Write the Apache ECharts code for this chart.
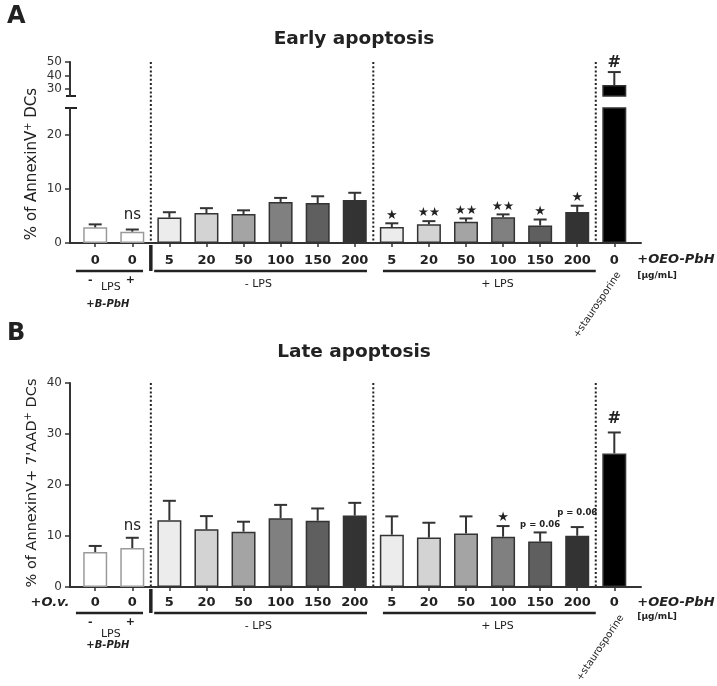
<!DOCTYPE html>
<html><head><meta charset="utf-8">
<script src="https://cdn.jsdelivr.net/npm/echarts@6/dist/echarts.min.js"></script>
<style>html,body{margin:0;padding:0;background:#fff}#c{width:717px;height:686px}</style>
</head><body><div id="c"></div>
<script>
// ---------------- data ----------------
const doseLabels = ['0','0','5','20','50','100','150','200','5','20','50','100','150','200','0'];
const earlyMean  = [2.9, 2.1, 4.7, 5.55, 5.35, 7.6, 7.4, 7.95, 2.95, 3.45, 3.95, 4.75, 3.25, 5.75, 33.1];
const earlyErr   = [0.55,0.4, 1.0, 0.9,  0.7,  0.75,1.25,1.35, 0.7,  0.6,  0.6,  0.55, 1.1,  1.15, 9.5];
const lateMean   = [6.85,7.65,13.1,11.3,10.85,13.5,13.0,14.0,10.25,9.7,10.5,9.85,8.9,10.05,26.2];
const lateErr    = [1.2, 2.0, 3.8, 2.6, 1.95, 2.6, 2.4, 2.5, 3.6, 2.9, 3.35,2.1, 1.8, 1.7, 4.1];
const earlySig   = ['', 'ns', '', '', '', '', '', '', '★', '★★', '★★', '★★', '★', '★', '#'];
const lateSig    = ['', 'ns', '', '', '', '', '', '', '', '', '', '★', 'p = 0.06', 'p = 0.06', '#'];
const earlyUpperTicks = [30, 40, 50];
const earlyLowerTicks = [0, 10, 20];
const lateTicks = [0, 10, 20, 30, 40];
const separators = [1.5, 7.5, 13.5];

// ---------------- styles ----------------
const FONT = "'DejaVu Sans', sans-serif";
const barColors = ['#ffffff','#ffffff','#ececec','#d3d3d3','#a4a4a4','#808080','#5f5f5f','#333333','#ececec','#d3d3d3','#a4a4a4','#808080','#5f5f5f','#333333','#000000'];
const INK = '#222';
const idx = doseLabels.map((_, i) => i);
const annoLift = {
  A: {'★': 8, '★★': 8, 'ns': 14, '#': 9},
  B: {'★': 8, 'ns': 12, '#': 14, 'p = 0.06': 7.5}
};
const annoExtra = {B: {13: 6.5}};
const annoFont = {'★': [13,'normal'], '★★': [12.5,'normal'], 'ns': [15,'normal'], '#': [16,'bold'], 'p = 0.06': [8.5,'bold']};

const chart = echarts.init(document.getElementById('c'), null, {renderer: 'canvas'});

function xAx(g, show, margin) {
  return {
    type: 'value', gridIndex: g, min: -0.68, max: 14.72, show: show,
    splitLine: {show: false},
    axisLine: {show: true, onZero: false, lineStyle: {color: '#333', width: 2}},
    axisTick: {show: true, customValues: idx, length: 4, lineStyle: {color: '#333', width: 1.5}},
    axisLabel: {customValues: idx, formatter: v => doseLabels[Math.round(v)], margin: margin,
      color: INK, fontSize: 13, fontWeight: 'bold', fontFamily: FONT}
  };
}
function yAx(g, min, max, ticks) {
  return {
    type: 'value', gridIndex: g, min: min, max: max,
    splitLine: {show: false},
    axisLine: {show: true, onZero: false, lineStyle: {color: '#333', width: 2}},
    axisTick: {show: true, customValues: ticks, length: 5, lineStyle: {color: '#333', width: 1.5}},
    axisLabel: {customValues: ticks, margin: 8, color: '#333', fontSize: 12, fontFamily: FONT}
  };
}
function barSeries(g, means) {
  return {
    type: 'bar', xAxisIndex: g, yAxisIndex: g, barWidth: 24, clip: true, silent: true,
    data: means.map((m, i) => ({value: [i, m], itemStyle: {color: barColors[i],
      borderColor: i < 2 ? '#9a9a9a' : '#333', borderWidth: 1.5}}))
  };
}
function errSeries(g, means, errs, lo, hi) {
  return {
    type: 'custom', xAxisIndex: g, yAxisIndex: g, silent: true, z: 3,
    data: means.map((m, i) => [i, m, errs[i]]),
    renderItem: (p, api) => {
      const x = api.value(0), m = api.value(1), e = api.value(2);
      if (m < lo || m > hi) return null;
      const a = api.coord([x, m]), b = api.coord([x, m + e]);
      const w = 6.5;
      return {type: 'group', children: [
        {type: 'line', shape: {x1: a[0], y1: a[1], x2: b[0], y2: b[1]}, style: {stroke: '#333', lineWidth: 2}},
        {type: 'line', shape: {x1: b[0] - w, y1: b[1], x2: b[0] + w, y2: b[1]}, style: {stroke: '#333', lineWidth: 2}}
      ]};
    }
  };
}
function annoSeries(g, means, errs, sig, lo, hi, key) {
  return {
    type: 'custom', xAxisIndex: g, yAxisIndex: g, silent: true, z: 4,
    data: means.map((m, i) => [i, m, errs[i]]),
    renderItem: (p, api) => {
      const i = p.dataIndex, s = sig[i];
      const x = api.value(0), m = api.value(1), e = api.value(2);
      if (!s || m < lo || m > hi) return null;
      const b = api.coord([x, m + e]);
      const lift = annoLift[key][s] + ((annoExtra[key] || {})[i] || 0);
      const f = annoFont[s];
      return {type: 'text', x: b[0], y: b[1] - lift, style: {text: s, fill: INK,
        fontSize: f[0], fontWeight: f[1], fontFamily: FONT, align: 'center', verticalAlign: 'middle'}};
    }
  };
}

chart.setOption({
  animation: false,
  grid: [
    {left: 70, top: 62, width: 571, height: 34},
    {left: 70, top: 108, width: 571, height: 135},
    {left: 70, top: 383, width: 571, height: 204}
  ],
  xAxis: [xAx(0, false, 11), xAx(1, true, 11), xAx(2, true, 9)],
  yAxis: [yAx(0, 25, 50, earlyUpperTicks), yAx(1, 0, 25, earlyLowerTicks), yAx(2, 0, 40, lateTicks)],
  series: [
    barSeries(0, earlyMean), barSeries(1, earlyMean), barSeries(2, lateMean),
    errSeries(0, earlyMean, earlyErr, 25, 50), errSeries(1, earlyMean, earlyErr, 0, 25),
    errSeries(2, lateMean, lateErr, 0, 40),
    annoSeries(0, earlyMean, earlyErr, earlySig, 25, 50, 'A'),
    annoSeries(1, earlyMean, earlyErr, earlySig, 0, 25, 'A'),
    annoSeries(2, lateMean, lateErr, lateSig, 0, 40, 'B')
  ]
});

// ---------------- decorations (positions from the axes) ----------------
const G = [];
const P = (g, x, y) => chart.convertToPixel({gridIndex: g}, [x, y]);
function line(x1, y1, x2, y2, w, dash) {
  G.push({type: 'line', silent: true, shape: {x1, y1, x2, y2},
    style: {stroke: INK, lineWidth: w, lineDash: dash || null}});
}
function text(x, y, str, st, rot) {
  G.push({type: 'text', silent: true, x: x, y: y, rotation: rot || 0,
    style: Object.assign({text: str, fill: INK, fontFamily: FONT, fontSize: 11,
      align: 'center', verticalAlign: 'middle'}, st || {})});
}
const rich = {
  n: {fontFamily: FONT, fontSize: 13, fontWeight: 'bold', fill: INK},
  i: {fontFamily: FONT, fontSize: 13, fontWeight: 'bold', fontStyle: 'italic', fill: INK},
  s: {fontFamily: FONT, fontSize: 10, fontWeight: 'bold', fill: INK},
  si: {fontFamily: FONT, fontSize: 10, fontWeight: 'bold', fontStyle: 'italic', fill: INK},
  yl: {fontFamily: FONT, fontSize: 15, fill: INK, lineHeight: 18},
  yl2: {fontFamily: FONT, fontSize: 14.5, fill: INK, lineHeight: 18},
  sup: {fontFamily: FONT, fontSize: 10, fill: INK, verticalAlign: 'top', lineHeight: 10}
};

function panel(key, gTop, gBase, cfg) {
  const base = P(gBase, 0, 0)[1];
  const top = P(gTop, 0, gTop === 0 ? 50 : 40)[1];
  const X = v => P(gBase, v, 0)[0];
  separators.forEach(s => line(X(s), top, X(s), base, 2, [2, 2.2]));
  line(X(1.5), base + 2, X(1.5), base + cfg.gl, 3.5);
  [[-0.52, 1.29], [1.59, 7.33], [7.76, 13.5]].forEach(r => line(X(r[0]), base + cfg.gl, X(r[1]), base + cfg.gl, 2.5));
  text(X(0) - 5, base + cfg.pm, '-', {fontWeight: 'bold', fontSize: 11});
  text(X(1) - 2, base + cfg.pm, '+', {fontWeight: 'bold', fontSize: 11});
  text(X(0.5) - 3, base + cfg.lps, 'LPS', {fontSize: 11});
  text(X(0.5) - 6, base + cfg.bp, '{s|+}{si|B-PbH}', {rich: rich});
  text(X(4.4), base + cfg.mid, '- LPS', {fontSize: 11});
  text(X(10.85), base + cfg.mid, '+ LPS', {fontSize: 11});
  text(X(14) - cfg.stx, base + cfg.sty, '+staurosporine', {fontSize: 10}, 56 * Math.PI / 180);
  text(X(14.62), base + cfg.oeo, '{n|+}{i|OEO-PbH}', {rich: rich, align: 'left'});
  text(X(14.62), base + cfg.ug, '[µg/mL]', {fontSize: 9, fontWeight: 'bold', align: 'left'});
}
panel('A', 0, 1, {gl: 28, pm: 37, lps: 44, bp: 61, mid: 41, stx: 17, sty: 62, oeo: 17, ug: 33});
panel('B', 2, 2, {gl: 26, pm: 35, lps: 47, bp: 58, mid: 39, stx: 14, sty: 61, oeo: 16, ug: 30});

const ax = P(1, -0.68, 0)[0];
line(ax - 4, P(0, 0, 25)[1], ax + 6, P(0, 0, 25)[1], 2);
line(ax - 5, P(1, 0, 25)[1], ax + 7, P(1, 0, 25)[1], 2);

text(50, P(2, 0, 0)[1] + 16, '+O.v.', {fontSize: 13, fontWeight: 'bold', fontStyle: 'italic'});

text(32, 164, '{yl|% of AnnexinV}{sup|+}{yl| DCs}', {rich: rich}, Math.PI / 2);
text(32, 483, "{yl2|% of AnnexinV+ 7'AAD}{sup|+}{yl2| DCs}", {rich: rich}, Math.PI / 2);

text(354, 39, 'Early apoptosis', {fontSize: 18.5, fontWeight: 'bold'});
text(354, 352, 'Late apoptosis', {fontSize: 18.5, fontWeight: 'bold'});
text(7, 17, 'A', {fontSize: 24, fontWeight: 'bold', align: 'left'});
text(7, 334, 'B', {fontSize: 24, fontWeight: 'bold', align: 'left'});

chart.setOption({graphic: G});
</script></body></html>
